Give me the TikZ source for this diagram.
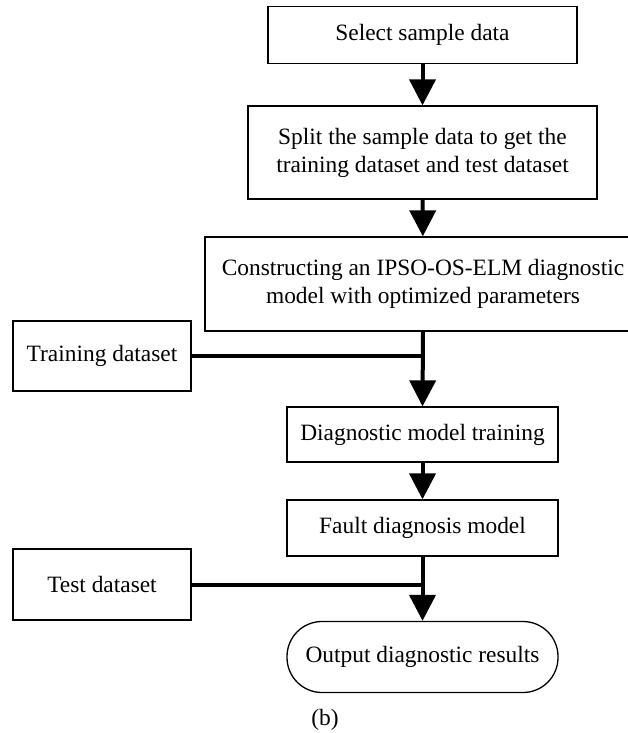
\documentclass[tikz,border=0pt]{standalone}
\usepackage{fontspec}
\setmainfont{Liberation Serif}
\usetikzlibrary{arrows.meta, positioning, calc}

\begin{document}
\begin{tikzpicture}[
    x=1pt, y=-1pt,
    box/.style={draw, line width=1.3pt, inner sep=0, align=center, font=\fontsize{23.4}{28}\selectfont},
    term/.style={box, rounded corners=35pt},
    flow/.style={-{Triangle[length=26pt, width=26pt]}, line width=4pt},
    feed/.style={line width=4pt}
]
\useasboundingbox (0,0) rectangle (627,733);
% main chain
\node[box, minimum width=309pt, minimum height=57pt] (select) at (422.5, 35)  {Select sample data};
\node[box, minimum width=349pt, minimum height=93pt] (split)  at (422.5, 152.5) {Split the sample data to get the\\training dataset and test dataset};
\node[box, minimum width=436pt, minimum height=94pt] (build)  at (423, 284) {Constructing an IPSO-OS-ELM diagnostic\\model with optimized parameters};
\node[box, minimum width=271pt, minimum height=55pt] (train)  at (422.5, 434.5) {Diagnostic model training};
\node[box, minimum width=271pt, minimum height=56pt] (fault)  at (422.5, 528) {Fault diagnosis model};
\node[term, minimum width=271pt, minimum height=71pt] (output) at (422.5, 657) {Output diagnostic results};
% side inputs
\node[box, minimum width=178pt, minimum height=70pt] (trainset) at (102, 356) {Training dataset};
\node[box, minimum width=178pt, minimum height=71pt] (testset)  at (102, 584.5) {Test dataset};
\node[font=\fontsize{23.4}{28}\selectfont] (cap) at (325, 720) {(b)};
% connectors
\draw[flow] (select) -- (split);
\draw[flow] (split) -- (build);
\draw[flow] (build.south) -- (train.north);
\draw[flow] (train) -- (fault);
\draw[flow] (fault.south) -- (output.north);
\draw[feed] (trainset.east) -- (trainset.east -| train.north);
\draw[feed] (testset.east) -- (testset.east -| output.north);
\end{tikzpicture}
\end{document}
